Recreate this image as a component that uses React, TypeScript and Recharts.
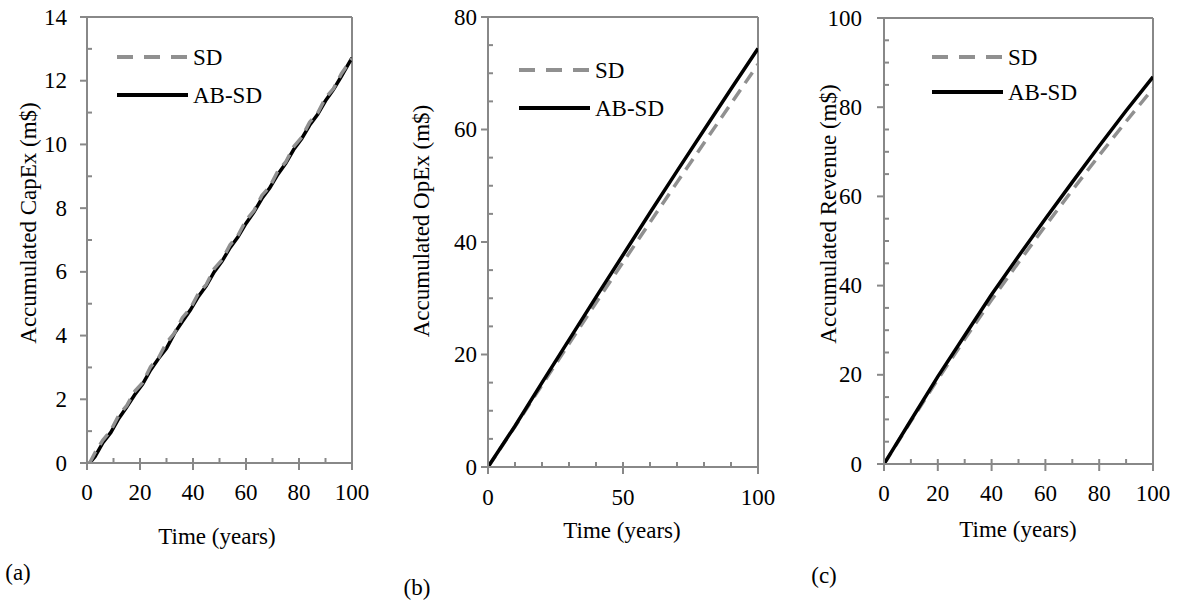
import React from 'react';
import { LineChart, Line, XAxis, YAxis, ReferenceLine, Legend } from 'recharts';

const FONT = '"Liberation Serif", "Times New Roman", serif';
const AXIS = '#888888';
const GREY = '#909090';
const FS = 23;

// ---------- data ----------
const capexTime = [1, 3, 6, 9, 12, 15, 18, 21, 24, 27, 30, 33, 36, 39, 42, 45, 48, 51, 54, 57, 60, 63, 66, 69, 72, 75, 78, 81, 84, 87, 90, 93, 96, 100];
const capexSD = [0, 0.32, 0.72, 1.02, 1.5, 1.8, 2.25, 2.52, 3.02, 3.3, 3.78, 4.08, 4.56, 4.85, 5.32, 5.6, 6.1, 6.38, 6.85, 7.15, 7.62, 7.92, 8.4, 8.68, 9.16, 9.45, 9.93, 10.22, 10.7, 10.98, 11.46, 11.75, 12.22, 12.7];
const capexABSD = [0, 0.2, 0.64, 0.96, 1.4, 1.76, 2.14, 2.48, 2.92, 3.28, 3.6, 4.07, 4.44, 4.8, 5.22, 5.56, 6.0, 6.34, 6.76, 7.1, 7.52, 7.88, 8.3, 8.64, 9.06, 9.41, 9.84, 10.18, 10.6, 10.94, 11.37, 11.72, 12.14, 12.72];

const opexTime = [0, 10, 20, 30, 40, 50, 60, 70, 80, 90, 100];
const opexSD = [0, 7.2, 14.6, 21.9, 29.2, 36.4, 43.5, 50.6, 57.6, 64.6, 71.6];
const opexABSD = [0, 7.3, 15.0, 22.6, 30.2, 37.7, 45.2, 52.6, 59.9, 67.2, 74.4];

const revTime = [0, 10, 20, 30, 40, 50, 60, 70, 80, 90, 100];
const revSD = [0, 9.6, 19.0, 28.0, 36.8, 45.2, 53.4, 61.4, 69.2, 76.8, 84.2];
const revABSD = [0, 9.8, 19.6, 28.8, 38.0, 46.6, 55.0, 63.2, 71.3, 79.2, 86.8];

// ---------- ticks ----------
const xTicks = [0, 10, 20, 30, 40, 50, 60, 70, 80, 90, 100];
const xLabels20 = [0, 20, 40, 60, 80, 100];
const xLabels50 = [0, 50, 100];
const capexYTicks = [0, 1, 2, 3, 4, 5, 6, 7, 8, 9, 10, 11, 12, 13, 14];
const capexYLabels = [0, 2, 4, 6, 8, 10, 12, 14];
const opexYTicks = [0, 5, 10, 15, 20, 25, 30, 35, 40, 45, 50, 55, 60, 65, 70, 75, 80];
const opexYLabels = [0, 20, 40, 60, 80];
const revYTicks = [0, 5, 10, 15, 20, 25, 30, 35, 40, 45, 50, 55, 60, 65, 70, 75, 80, 85, 90, 95, 100];
const revYLabels = [0, 20, 40, 60, 80, 100];

const seriesNames = ['SD', 'AB-SD'];
const xTitle = 'Time (years)';
const yTitles = ['Accumulated CapEx (m$)', 'Accumulated OpEx (m$)', 'Accumulated Revenue (m$)'];
const panelLabels = ['(a)', '(b)', '(c)'];

const rows = (t: number[], sd: number[], ab: number[]) => t.map((v, i) => ({ t: v, sd: sd[i], ab: ab[i] }));

const textStyle = { fontFamily: FONT, fontSize: FS };

const makeYTick = (labels: number[], gap: number) => (props: any) => {
  const { x, y, payload } = props;
  const major = labels.includes(payload.value);
  return (
    <g>
      {major ? (
        <line x1={x - 7} x2={x} y1={y} y2={y} stroke={AXIS} strokeWidth={2} />
      ) : (
        <line x1={x} x2={x + 5} y1={y} y2={y} stroke={AXIS} strokeWidth={2} />
      )}
      {major && (
        <text x={x - gap} y={y} textAnchor="end" dominantBaseline="central" style={textStyle} fill="#000">
          {payload.value}
        </text>
      )}
    </g>
  );
};

const makeXTick = (labels: number[], off: number) => (props: any) => {
  const { x, y, payload } = props;
  const major = labels.includes(payload.value);
  return (
    <g>
      <line x1={x} x2={x} y1={y - 5} y2={major ? y + 7 : y} stroke={AXIS} strokeWidth={2} />
      {major && (
        <text x={x} y={y + off} textAnchor="middle" dominantBaseline="central" style={textStyle} fill="#000">
          {payload.value}
        </text>
      )}
    </g>
  );
};

const makeLegend = (rowH: number) => () => (
  <div style={{ fontFamily: FONT, fontSize: FS, color: '#000' }}>
    {seriesNames.map((n, i) => (
      <div key={n} style={{ display: 'flex', alignItems: 'center', height: rowH, lineHeight: 1 }}>
        <svg width={71} height={10} style={{ display: 'block' }}>
          <line x1={0} x2={71} y1={5} y2={5} stroke={i === 0 ? GREY : '#000'} strokeWidth={4} strokeDasharray={i === 0 ? '16 11' : undefined} />
        </svg>
        <span style={{ marginLeft: 5, fontFamily: FONT }}>{n}</span>
      </div>
    ))}
  </div>
);

type PanelProps = {
  left: number; width: number; data: any[]; yMax: number; yTicks: number[]; yLabels: number[]; xLabels: number[];
  margin: { top: number; right: number; bottom: number; left: number }; yGap: number; xOff: number;
  legendLeft: number; legendTop: number; legendRow: number; greyOnTop: boolean;
};

function Panel(p: PanelProps) {
  const sd = <Line key="sd" type="linear" dataKey="sd" name="SD" stroke={GREY} strokeWidth={3.5} strokeDasharray="13 8" dot={false} isAnimationActive={false} />;
  const ab = <Line key="ab" type="linear" dataKey="ab" name="AB-SD" stroke="#000" strokeWidth={3.5} dot={false} isAnimationActive={false} />;
  return (
    <div style={{ position: 'absolute', left: p.left, top: 0 }}>
      <LineChart width={p.width} height={603} data={p.data} margin={p.margin}>
        <XAxis dataKey="t" type="number" domain={[0, 100]} ticks={xTicks} interval={0} height={30}
          tickSize={0} tickMargin={0} tickLine={false} axisLine={{ stroke: AXIS, strokeWidth: 2 }}
          tick={makeXTick(p.xLabels, p.xOff)} allowDataOverflow />
        <YAxis type="number" domain={[0, p.yMax]} ticks={p.yTicks} interval={0} width={60}
          tickSize={0} tickMargin={0} tickLine={false} axisLine={{ stroke: AXIS, strokeWidth: 2 }}
          tick={makeYTick(p.yLabels, p.yGap)} allowDataOverflow />
        <ReferenceLine y={p.yMax} stroke={AXIS} strokeWidth={2} />
        <ReferenceLine x={100} stroke={AXIS} strokeWidth={2} />
        {p.greyOnTop ? [ab, sd] : [sd, ab]}
        <Legend layout="horizontal" verticalAlign="middle" align="center" content={makeLegend(p.legendRow)}
          wrapperStyle={{ position: 'absolute', left: p.legendLeft, top: p.legendTop, width: 'auto', height: 'auto' }} />
      </LineChart>
    </div>
  );
}

const Txt = ({ x, y, text, rot }: { x: number; y: number; text: string; rot?: boolean }) => (
  <div style={{ position: 'absolute', left: x, top: y, transform: `translate(-50%, -50%)${rot ? ' rotate(-90deg)' : ''}`,
    whiteSpace: 'nowrap', fontFamily: FONT, fontSize: FS, lineHeight: 1, color: '#000' }}>{text}</div>
);

export default function App() {
  return (
    <div style={{ position: 'absolute', left: 0, top: 0, width: 1181, height: 603, background: '#fff', overflow: 'hidden' }}>
      <Panel left={0} width={390} data={rows(capexTime, capexSD, capexABSD)} yMax={14} yTicks={capexYTicks} yLabels={capexYLabels}
        xLabels={xLabels20} margin={{ top: 17, right: 38, bottom: 110, left: 27 }} yGap={20} xOff={29}
        legendLeft={117} legendTop={57 - 19} legendRow={38} greyOnTop={true} />
      <Panel left={390} width={395} data={rows(opexTime, opexSD, opexABSD)} yMax={80} yTicks={opexYTicks} yLabels={opexYLabels}
        xLabels={xLabels50} margin={{ top: 17, right: 27, bottom: 106, left: 38 }} yGap={11} xOff={30}
        legendLeft={129} legendTop={70 - 19} legendRow={38} greyOnTop={false} />
      <Panel left={785} width={396} data={rows(revTime, revSD, revABSD)} yMax={100} yTicks={revYTicks} yLabels={revYLabels}
        xLabels={xLabels20} margin={{ top: 18, right: 28, bottom: 109, left: 39 }} yGap={22} xOff={29}
        legendLeft={147} legendTop={57 - 17.5} legendRow={35} greyOnTop={false} />
      <Txt x={217} y={536} text={xTitle} />
      <Txt x={622} y={530} text={xTitle} />
      <Txt x={1018} y={529} text={xTitle} />
      <Txt x={28} y={223} text={yTitles[0]} rot />
      <Txt x={421} y={221} text={yTitles[1]} rot />
      <Txt x={828} y={214} text={yTitles[2]} rot />
      <Txt x={18} y={572} text={panelLabels[0]} />
      <Txt x={417} y={587} text={panelLabels[1]} />
      <Txt x={824} y={575} text={panelLabels[2]} />
    </div>
  );
}
